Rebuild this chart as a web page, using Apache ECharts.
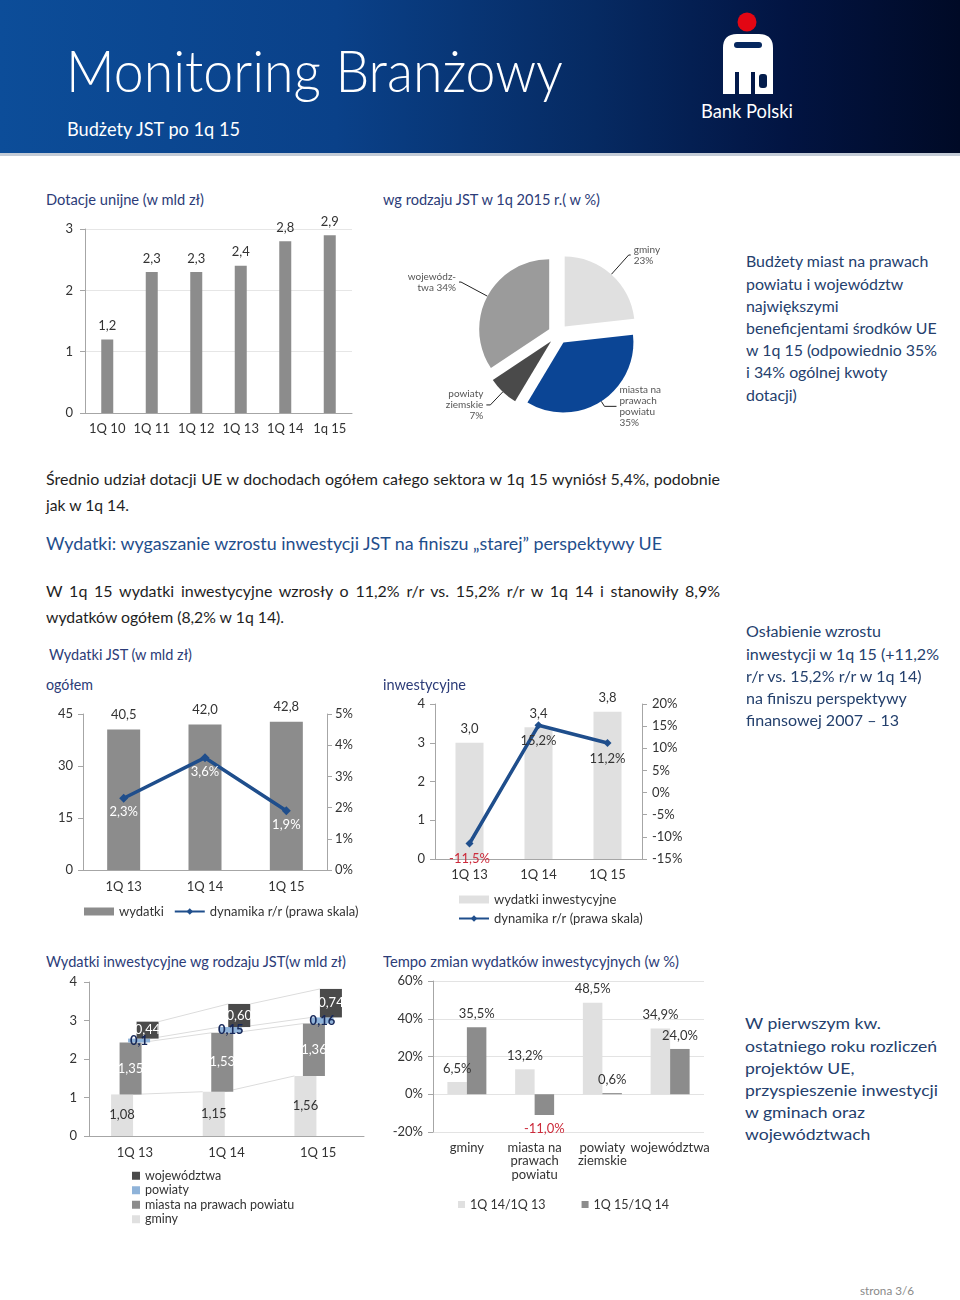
<!DOCTYPE html>
<html lang="pl"><head><meta charset="utf-8"><title>Monitoring Branżowy</title>
<script src="https://cdn.jsdelivr.net/npm/echarts@6.0.0/dist/echarts.min.js"></script>
<style>
html,body{margin:0;padding:0}
body{width:960px;height:1300px;position:relative;background:#fff;font-family:Lato,"Open Sans","Noto Sans",sans-serif;overflow:hidden}
#hdr{position:absolute;left:0;top:0;width:960px;height:153px;background:linear-gradient(90deg,#0c4d99 0%,#0a4189 35%,#062a62 62%,#021442 82%,#000a26 100%)}
#hdrline{position:absolute;left:0;top:153px;width:960px;height:3px;background:#c3cbd6}
.t{position:absolute;white-space:nowrap;transform-origin:0 50%;line-height:1.2}
.c{position:absolute}
</style></head><body>
<div id="hdr"></div><div id="hdrline"></div>
<svg style="position:absolute;left:715px;top:8px" width="66" height="92" viewBox="0 0 66 92">
  <circle cx="32" cy="14" r="9.5" fill="#e30613"/>
  <path d="M8 40 Q8 26 22 26 L44 26 Q58 26 58 40 L58 86 L40 86 L40 64 L36 64 L36 86 L24 86 L24 64 L20 64 L20 86 L8 86 Z" fill="#fff"/>
  <rect x="19" y="34" width="28" height="6" rx="3" fill="#06285f"/>
  <rect x="44" y="66" width="8" height="14" rx="3" fill="#041d4c"/>
</svg>
<div id="c1" class="c" style="left:40px;top:212px;width:320px;height:233px"></div>
<div id="c2" class="c" style="left:380px;top:210px;width:330px;height:240px"></div>
<div id="c3" class="c" style="left:40px;top:695px;width:330px;height:235px"></div>
<div id="c4" class="c" style="left:375px;top:690px;width:330px;height:240px"></div>
<div id="c5" class="c" style="left:40px;top:970px;width:330px;height:275px"></div>
<div id="c6" class="c" style="left:375px;top:970px;width:340px;height:245px"></div>
<script>
// ---------- DATA ----------
const euCats = ['1Q 10', '1Q 11', '1Q 12', '1Q 13', '1Q 14', '1q 15'];
const euGrants = [1.2, 2.3, 2.3, 2.4, 2.8, 2.9];

const pieNames = ['gminy', 'miasta na\nprawach\npowiatu', 'powiaty\nziemskie', 'wojewódz-\ntwa'];
const pieShares = [23, 35, 7, 34];

const qCats = ['1Q 13', '1Q 14', '1Q 15'];
const totalSpend = [40.5, 42.0, 42.8];
const totalGrowth = [2.3, 3.6, 1.9];
const investSpend = [3.0, 3.4, 3.8];
const investGrowth = [-11.5, 15.2, 11.2];

const invGminy = [1.08, 1.15, 1.56];
const invMiasta = [1.35, 1.53, 1.36];
const invPowiaty = [0.10, 0.15, 0.16];
const invWoj = [0.44, 0.60, 0.74];
const invNames = ['gminy', 'miasta na prawach powiatu', 'powiaty', 'województwa'];

const jstCats = ['gminy', 'miasta na\nprawach\npowiatu', 'powiaty\nziemskie', 'województwa'];
const growth1413 = [6.5, 13.2, 48.5, 34.9];
const growth1514 = [35.5, -11.0, 0.6, 24.0];

// ---------- TEXT HELPERS ----------
const fmt = (v, d) => v.toFixed(d).replace('.', ',');
function T(txt, x, cy, size, color, o = {}) {
  const d = document.createElement('div');
  d.className = 't';
  d.textContent = txt;
  d.style.left = x + 'px';
  d.style.top = (cy - 0.69 * size) + 'px';
  d.style.fontSize = size + 'px';
  d.style.color = color;
  if (o.weight) d.style.fontWeight = o.weight;
  document.body.appendChild(d);
  const w = d.getBoundingClientRect().width;
  if (o.w) {
    if (o.justify && w < o.w) {
      const n = (txt.match(/ /g) || []).length;
      d.style.wordSpacing = ((o.w - w) / n) + 'px';
    } else {
      d.style.transform = 'scaleX(' + (o.w / w) + ')';
    }
  }
  return d;
}
function block(lines, x, cy0, lh, size, color, target) {
  const els = lines.map((l, i) => T(l, x, cy0 + i * lh, size, color));
  const mx = Math.max(...els.map(e => e.getBoundingClientRect().width));
  els.forEach(e => e.style.transform = 'scaleX(' + (target / mx) + ')');
}

const NAVY = '#2c3c78', BLUE = '#1f4e8c', NOTE = '#24406d', BODY = '#1e1e1e';
// header
T('Monitoring Branżowy', 66, 75, 58, '#fff', { w: 497, weight: 300 });
T('Budżety JST po 1q 15', 67, 131, 19, '#fff', { w: 173 });
T('Bank Polski', 701, 113, 19, '#fff', { w: 92 });
// section titles
T('Dotacje unijne (w mld zł)', 46, 200, 15, NAVY, { w: 158 });
T('wg rodzaju JST w 1q 2015 r.( w %)', 383, 200, 15, NAVY, { w: 217 });
block(['Budżety miast na prawach', 'powiatu i województw', 'największymi', 'beneficjentami środków UE',
  'w 1q 15 (odpowiednio 35%', 'i 34% ogólnej kwoty', 'dotacji)'], 746, 263, 22.2, 15.5, NOTE, 191);
T('Średnio udział dotacji UE w dochodach ogółem całego sektora w 1q 15 wyniósł 5,4%, podobnie', 46, 480, 16, BODY, { w: 674, justify: true });
T('jak w 1q 14.', 46, 506, 16, BODY, { w: 83 });
T('Wydatki: wygaszanie wzrostu inwestycji JST na finiszu „starej” perspektywy UE', 46, 546, 17, BLUE, { w: 616 });
T('W 1q 15 wydatki inwestycyjne wzrosły o 11,2% r/r vs. 15,2% r/r w 1q 14 i stanowiły 8,9%', 46, 592, 16, BODY, { w: 674, justify: true });
T('wydatków ogółem (8,2% w 1q 14).', 46, 618, 16, BODY, { w: 238 });
T('Wydatki JST (w mld zł)', 49, 655, 15, NAVY, { w: 143 });
T('ogółem', 46, 685, 15, NAVY, { w: 47 });
T('inwestycyjne', 383, 685, 15, NAVY, { w: 83 });
block(['Osłabienie wzrostu', 'inwestycji w 1q 15 (+11,2%', 'r/r vs. 15,2% r/r w 1q 14)',
  'na finiszu perspektywy', 'finansowej 2007 – 13'], 746, 633, 22.2, 15.5, NOTE, 193);
T('Wydatki inwestycyjne wg rodzaju JST(w mld zł)', 46, 962, 15, NAVY, { w: 300 });
T('Tempo zmian wydatków inwestycyjnych (w %)', 383, 962, 15, NAVY, { w: 296 });
block(['W pierwszym kw.', 'ostatniego roku rozliczeń', 'projektów UE,', 'przyspieszenie inwestycji',
  'w gminach oraz', 'województwach'], 745, 1025, 22.2, 15.5, NOTE, 193);
T('strona 3/6', 860, 1292, 12, '#8a8a8a', { w: 54 });

// ---------- CHARTS ----------
const FONT = 'Lato, "Open Sans", sans-serif';
const AX = '#a6a6a6', TX = '#333';
const GRAY = '#8c8c8c', LIGHT = '#e0e0e0', DARK = '#4a4a4a', LBLUE = '#8fb3d9', LINE = '#1f4e8c', RED = '#cc2b3b';
const axisLbl = { color: TX, fontSize: 13, fontFamily: FONT };
const init = id => echarts.init(document.getElementById(id), null, { renderer: 'canvas' });

// Chart 1: EU grants
init('c1').setOption({
  animation: false, textStyle: { fontFamily: FONT },
  grid: { left: 45, right: 8, top: 17, bottom: 32 },
  xAxis: { type: 'category', data: euCats, axisLine: { lineStyle: { color: AX } },
    axisTick: { length: 5, lineStyle: { color: AX } }, axisLabel: Object.assign({ margin: 9, interval: 0, hideOverlap: false }, axisLbl) },
  yAxis: { type: 'value', min: 0, max: 3, interval: 1,
    axisLine: { show: true, lineStyle: { color: AX } }, axisTick: { show: true, length: 5, lineStyle: { color: AX } },
    axisLabel: Object.assign({ margin: 12 }, axisLbl), splitLine: { lineStyle: { color: '#e6e6e6' } } },
  series: [{ type: 'bar', data: euGrants, barWidth: 12, itemStyle: { color: GRAY },
    label: { show: true, position: 'top', distance: 7, fontSize: 13, color: TX, formatter: p => fmt(p.value, 1) } }]
});

// Chart 2: pie
const pieColors = [LIGHT, '#0b4595', DARK, '#9b9b9b'];
const pieLeader = [[26, 2], [6, 12], [18, 4], [30, 2]];
init('c2').setOption({
  animation: false, textStyle: { fontFamily: FONT },
  series: [{
    type: 'pie', center: [178, 124], radius: 70, startAngle: 90, clockwise: true,
    selectedMode: 'multiple', selectedOffset: 10, emphasis: { disabled: true }, avoidLabelOverlap: false,
    data: pieNames.map((n, i) => ({ name: n, value: pieShares[i], selected: true, itemStyle: { color: pieColors[i] },
      labelLine: { length: pieLeader[i][0], length2: pieLeader[i][1] } })),
    label: { show: true, position: 'outside', fontSize: 10, color: '#555', lineHeight: 11, distanceToLabelLine: 3,
      formatter: p => p.name + (p.dataIndex === 3 ? ' ' : '\n') + p.value + '%' },
    labelLine: { show: true, lineStyle: { color: '#222', width: 1 } }
  }]
});

// Chart 3: total expenditure
init('c3').setOption({
  animation: false, textStyle: { fontFamily: FONT },
  grid: { left: 43, right: 43, top: 19, bottom: 60 },
  legend: { left: 39, top: 205, itemWidth: 30, itemHeight: 8, itemGap: 10, textStyle: { fontSize: 13, color: TX },
    data: [{ name: 'wydatki', icon: 'rect' }, { name: 'dynamika r/r (prawa skala)' }] },
  xAxis: { type: 'category', data: qCats, axisLine: { lineStyle: { color: AX } },
    axisTick: { length: 5, lineStyle: { color: AX } }, axisLabel: Object.assign({ margin: 10 }, axisLbl) },
  yAxis: [
    { type: 'value', min: 0, max: 45, interval: 15, splitLine: { show: false },
      axisLine: { show: true, lineStyle: { color: AX } }, axisTick: { show: true, length: 5, lineStyle: { color: AX } },
      axisLabel: Object.assign({ margin: 10 }, axisLbl) },
    { type: 'value', min: 0, max: 5, interval: 1, position: 'right', splitLine: { show: false },
      axisLine: { show: true, lineStyle: { color: AX } }, axisTick: { show: true, length: 5, lineStyle: { color: AX } },
      axisLabel: Object.assign({ margin: 8, formatter: '{value}%' }, axisLbl) }
  ],
  series: [
    { name: 'wydatki', type: 'bar', data: totalSpend, barWidth: 33, itemStyle: { color: GRAY },
      label: { show: true, position: 'top', distance: 8, fontSize: 13, color: TX, formatter: p => fmt(p.value, 1) } },
    { name: 'dynamika r/r (prawa skala)', type: 'line', yAxisIndex: 1, data: totalGrowth,
      symbol: 'diamond', symbolSize: 9, lineStyle: { width: 3.5, color: LINE }, itemStyle: { color: LINE },
      label: { show: true, position: 'bottom', distance: 3, fontSize: 13, color: '#fff', formatter: p => fmt(p.value, 1) + '%' } }
  ]
});

// Chart 4: investment expenditure
init('c4').setOption({
  animation: false, textStyle: { fontFamily: FONT },
  grid: { left: 60, right: 63, top: 14, bottom: 71 },
  legend: { orient: 'vertical', left: 78, top: 198, itemWidth: 30, itemHeight: 8, itemGap: 6, textStyle: { fontSize: 13, color: TX },
    data: [{ name: 'wydatki inwestycyjne', icon: 'rect' }, { name: 'dynamika r/r (prawa skala)' }] },
  xAxis: { type: 'category', data: qCats, axisLine: { lineStyle: { color: AX } },
    axisTick: { length: 5, lineStyle: { color: AX } }, axisLabel: Object.assign({ margin: 9 }, axisLbl) },
  yAxis: [
    { type: 'value', min: 0, max: 4, interval: 1, splitLine: { show: false },
      axisLine: { show: true, lineStyle: { color: AX } }, axisTick: { show: true, length: 5, lineStyle: { color: AX } },
      axisLabel: Object.assign({ margin: 10 }, axisLbl) },
    { type: 'value', min: -15, max: 20, interval: 5, position: 'right', splitLine: { show: false },
      axisLine: { show: true, lineStyle: { color: AX } }, axisTick: { show: true, length: 5, lineStyle: { color: AX } },
      axisLabel: Object.assign({ margin: 10, formatter: '{value}%' }, axisLbl) }
  ],
  series: [
    { name: 'wydatki inwestycyjne', type: 'bar', data: investSpend, barWidth: 28, itemStyle: { color: LIGHT },
      label: { show: true, position: 'top', distance: 7, fontSize: 13, color: TX, formatter: p => fmt(p.value, 1) } },
    { name: 'dynamika r/r (prawa skala)', type: 'line', yAxisIndex: 1, symbol: 'diamond', symbolSize: 8,
      lineStyle: { width: 3.5, color: LINE }, itemStyle: { color: LINE },
      data: investGrowth.map(v => ({ value: v, label: { color: v < 0 ? RED : TX } })),
      label: { show: true, position: 'bottom', distance: 5, fontSize: 13, formatter: p => fmt(p.value, 1) + '%' } }
  ]
});

// Chart 5: investment by JST type (offset stacked columns)
const layers = [invGminy, invMiasta, invPowiaty, invWoj];
const layerColors = [LIGHT, GRAY, LBLUE, DARK];
const layerLabelColors = ['#333', '#fff', '#16285a', '#fff'];
const layerFmt = [v => fmt(v, 2), v => fmt(v, 2), v => fmt(v, 2).replace(/0$/, ''), v => fmt(v, 2)];
function baseOf(k, i) { let s = 0; for (let j = 0; j < k; j++) s += layers[j][i]; return s; }
function stackSeries(k) {
  const vals = layers[k];
  const W = 22, off = (k - 1.5) * 8.5;
  return {
    type: 'custom', name: invNames[k], itemStyle: { color: layerColors[k] },
    data: vals.map((v, i) => [i, v]),
    renderItem: (params, api) => {
      const i = api.value(0), v = api.value(1), b = baseOf(k, i);
      const p0 = api.coord([i, b]), p1 = api.coord([i, b + v]);
      const x = p0[0] + off - W / 2;
      const ch = [
        { type: 'rect', shape: { x: x, y: p1[1], width: W, height: p0[1] - p1[1] }, style: { fill: layerColors[k] } },
        { type: 'text', z2: 100, style: { text: layerFmt[k](v), x: p0[0] + off, y: (p0[1] + p1[1]) / 2, align: 'center', verticalAlign: 'middle',
          fill: layerLabelColors[k], font: (k === 2 ? 'bold ' : '') + '13px ' + FONT } }
      ];
      if (i < vals.length - 1) {
        const q = api.coord([i + 1, baseOf(k, i + 1) + vals[i + 1]]);
        ch.push({ type: 'line', shape: { x1: x + W, y1: p1[1], x2: q[0] + off - W / 2, y2: q[1] }, style: { stroke: '#dcdcdc', lineWidth: 1 } });
      }
      return { type: 'group', children: ch };
    }
  };
}
init('c5').setOption({
  animation: false, textStyle: { fontFamily: FONT },
  grid: { left: 49, right: 6, top: 12, bottom: 109 },
  legend: { orient: 'vertical', left: 87, top: 194, icon: 'rect', itemWidth: 8, itemHeight: 8, itemGap: 1, textStyle: { fontSize: 12.5, color: TX, lineHeight: 13.5 },
    data: ['województwa', 'powiaty', 'miasta na prawach powiatu', 'gminy'] },
  xAxis: { type: 'category', data: qCats, axisLine: { lineStyle: { color: AX } },
    axisTick: { length: 5, lineStyle: { color: AX } }, axisLabel: Object.assign({ margin: 10 }, axisLbl) },
  yAxis: { type: 'value', min: 0, max: 4, interval: 1, splitLine: { show: false },
    axisLine: { show: true, lineStyle: { color: AX } }, axisTick: { show: true, length: 5, lineStyle: { color: AX } },
    axisLabel: Object.assign({ margin: 12 }, axisLbl) },
  series: [0, 1, 2, 3].map(stackSeries)
});

// Chart 6: growth by JST type
const growthLbl = { show: true, position: 'top', distance: 7, fontSize: 13, color: TX, formatter: p => fmt(p.value, 1) + '%' };
const negItem = v => ({ value: v, label: v < 0 ? { position: 'bottom', color: RED } : undefined });
init('c6').setOption({
  animation: false, textStyle: { fontFamily: FONT },
  grid: { left: 58, right: 11, top: 11, bottom: 83 },
  legend: { left: 78, top: 223, icon: 'rect', itemWidth: 7, itemHeight: 7, itemGap: 36, textStyle: { fontSize: 12.5, color: TX } },
  xAxis: { type: 'category', data: jstCats, axisLine: { show: false, onZero: false }, axisTick: { show: false },
    axisLabel: Object.assign({ margin: 9, interval: 0, lineHeight: 13.5 }, axisLbl) },
  yAxis: { type: 'value', min: -20, max: 60, interval: 20,
    axisLine: { show: true, lineStyle: { color: AX } }, axisTick: { show: true, length: 5, lineStyle: { color: AX } },
    axisLabel: Object.assign({ margin: 10, formatter: '{value}%' }, axisLbl), splitLine: { lineStyle: { color: '#e3e3e3' } } },
  series: [
    { name: '1Q 14/1Q 13', type: 'bar', data: growth1413.map(negItem), barWidth: 19.5, barGap: '0%', itemStyle: { color: LIGHT }, label: growthLbl },
    { name: '1Q 15/1Q 14', type: 'bar', data: growth1514.map(negItem), barWidth: 19.5, barGap: '0%', itemStyle: { color: GRAY }, label: growthLbl }
  ]
});
</script>
</body></html>
